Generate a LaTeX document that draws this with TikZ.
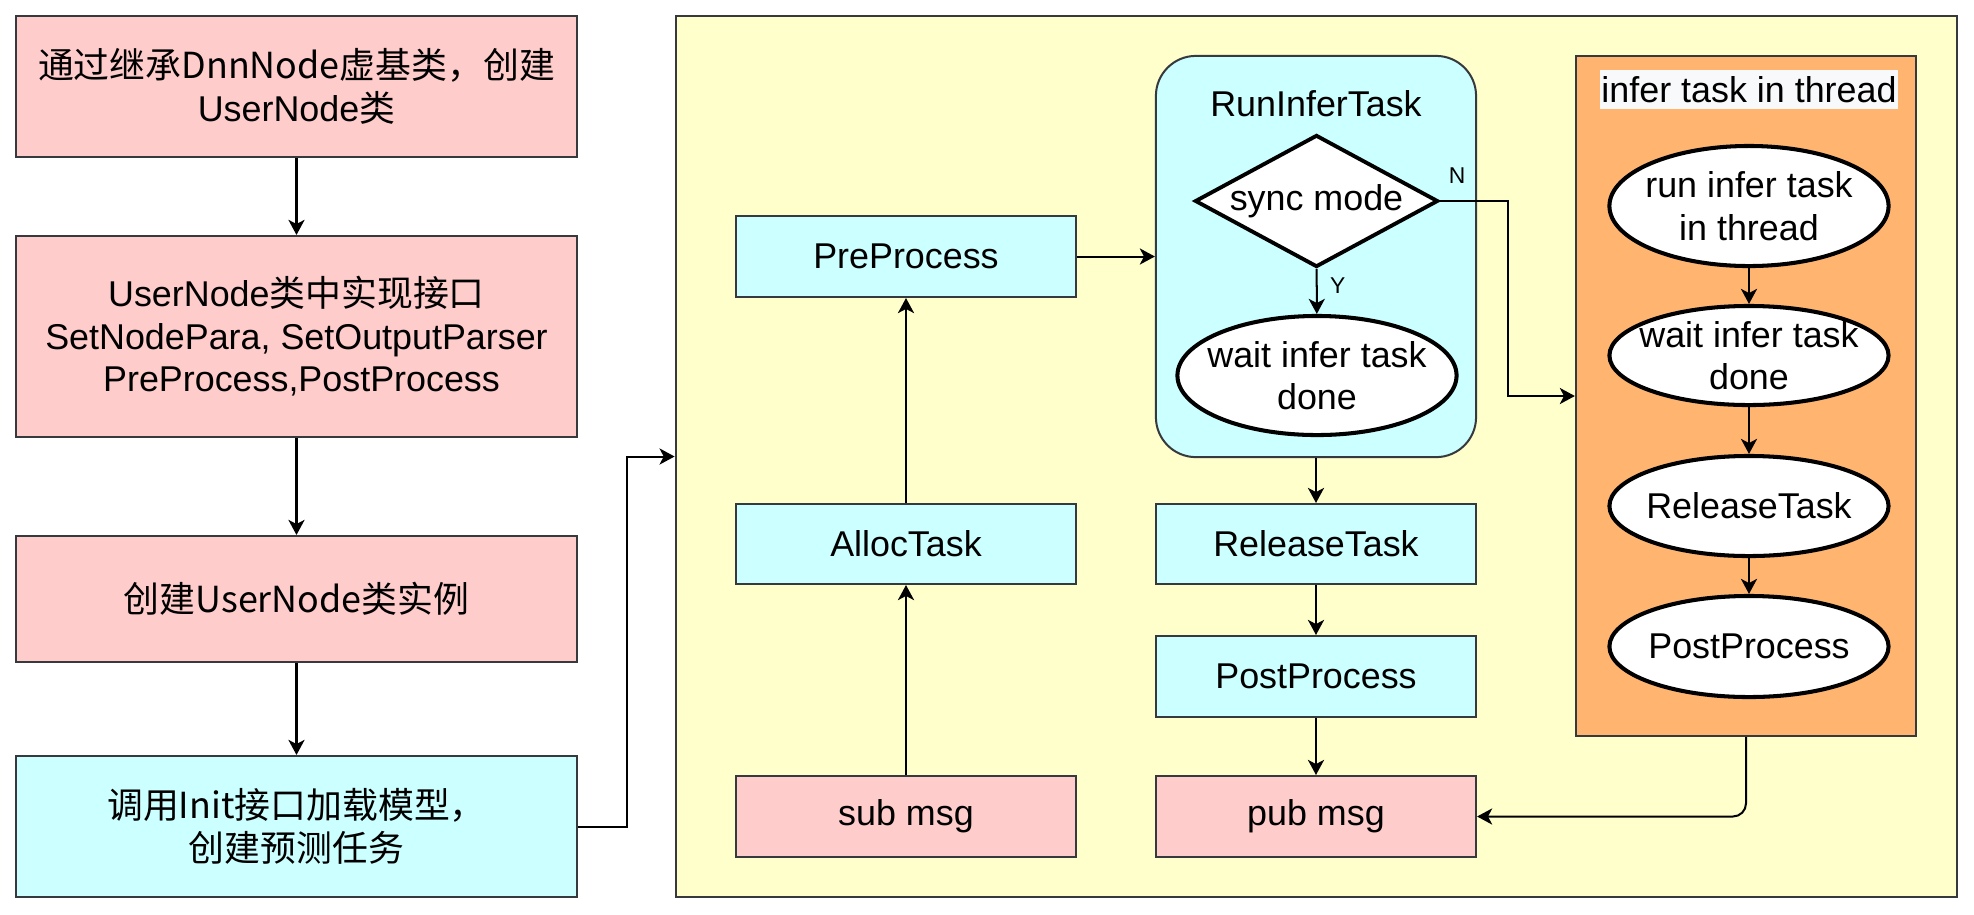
\documentclass[tikz,border=0pt]{standalone}
\usepackage{fontspec}
\setmainfont{Liberation Sans}
\newfontfamily\cjk{Noto Sans CJK SC}
\usepackage{tikz}
\usetikzlibrary{arrows.meta,shapes.geometric}

\definecolor{pinkfill}{HTML}{FFCCCC}
\definecolor{cyanfill}{HTML}{CCFFFF}
\definecolor{yellowfill}{HTML}{FFFFCC}
\definecolor{orangefill}{HTML}{FFB570}
\definecolor{edgegray}{HTML}{36393D}
\definecolor{titlefill}{HTML}{F8F9FA}

\begin{document}
\begin{tikzpicture}[
            x = 0.01cm, y = -0.01cm, % one unit is one pixel, y runs down
            > = {Stealth[length=4.3pt,width=4.6pt,inset=1.2pt]}, % arrow head style
            line width = 0.57pt, % line style
            every node/.style = {font=\fontsize{10.2}{12.1}\selectfont, align=center},
            plainbox/.style = {draw=edgegray, rectangle, inner sep=0pt},
            pinkbox/.style = {plainbox, fill=pinkfill},
            cyanbox/.style = {plainbox, fill=cyanfill},
            oval/.style = {draw=black, fill=white, ellipse, line width=1.15pt,
                           minimum width=2.79cm, inner xsep=-0.15cm, inner ysep=0pt},
            yn/.style = {font=\fontsize{6.5}{7}\selectfont, inner sep=2pt}
        ]
\useasboundingbox (0,0) rectangle (1974,914);

% left column
\node[pinkbox, minimum width=5.61cm, minimum height=1.41cm] (inherit) at (296.5,86.5) {\cjk{通过继承}DnnNode\cjk{虚基类，创建}\\UserNode\cjk{类}};
\node[pinkbox, minimum width=5.61cm, minimum height=2.01cm] (iface) at (296.5,336.5) {UserNode\cjk{类中实现接口}\\SetNodePara, SetOutputParser\\~PreProcess,PostProcess};
\node[pinkbox, minimum width=5.61cm, minimum height=1.26cm] (inst) at (296.5,599) {\cjk{创建}UserNode\cjk{类实例}};
\node[cyanbox, minimum width=5.61cm, minimum height=1.41cm] (init) at (296.5,826.5) {\cjk{调用}Init\cjk{接口加载模型，}\\\cjk{创建预测任务}};

% yellow area
\node[plainbox, fill=yellowfill, minimum width=12.81cm, minimum height=8.81cm] (yard) at (1316.5,456.5) {};

\node[cyanbox, minimum width=3.4cm, minimum height=0.81cm] (pre) at (906,256.5) {PreProcess};
\node[cyanbox, minimum width=3.4cm, minimum height=0.8cm] (alloc) at (906,544) {AllocTask};
\node[pinkbox, minimum width=3.4cm, minimum height=0.81cm] (sub) at (906,816.5) {sub msg};

\node[cyanbox, rounded corners=0.4cm, minimum width=3.2cm, minimum height=4.01cm] (run) at (1316,256.5) {};
\node (runtitle) at (1316,104) {RunInferTask};
\node[diamond, draw=black, fill=white, line width=1.1pt, aspect=1.84, inner sep=0pt,
      minimum width=2.43cm, minimum height=1.32cm] (sync) at (1316.5,201) {sync mode};
\node[oval, minimum height=1.19cm] (wait) at (1317,375.5) {wait infer task\\done};

\node[cyanbox, minimum width=3.2cm, minimum height=0.8cm] (release) at (1316,544) {ReleaseTask};
\node[cyanbox, minimum width=3.2cm, minimum height=0.81cm] (post) at (1316,676.5) {PostProcess};
\node[pinkbox, minimum width=3.2cm, minimum height=0.81cm] (pub) at (1316,816.5) {pub msg};

% thread area
\node[plainbox, fill=orangefill, minimum width=3.4cm, minimum height=6.8cm] (thread) at (1746,396) {};
\node[fill=titlefill, inner sep=0pt, minimum width=2.98cm, minimum height=0.39cm] (threadtitle) at (1749,89.5) {infer task in thread};
\node[oval, minimum height=1.2cm] (thrun) at (1749,206) {run infer task\\in thread};
\node[oval, minimum height=0.99cm] (thwait) at (1749,355.5) {wait infer task\\done};
\node[oval, minimum height=1.0cm] (threl) at (1749,506) {ReleaseTask};
\node[oval, minimum height=1.01cm] (thpost) at (1749,646.5) {PostProcess};

\path [->] (inherit) edge (iface);
\path [->] (iface) edge (inst);
\path [->] (inst) edge (init);
\draw [->] (init.east) -- ++(49,0) |- (yard.west);

\path [->] (sub) edge (alloc);
\path [->] (alloc) edge (pre);
\path [->] (pre) edge (run);
\path [->] (sync) edge node[yn, right=1.5pt, pos=0.37] {Y} (wait);
\draw [->] (sync.east) -- ++(68,0) node[yn, above=2.8pt, pos=0.25] {N} |- (thread.west);
\path [->] (run) edge (release);
\path [->] (release) edge (post);
\path [->] (post) edge (pub);

\path [->] (thrun) edge (thwait);
\path [->] (thwait) edge (threl);
\path [->] (threl) edge (thpost);
\draw [->, rounded corners=0.13cm] (thread.south) |- (pub.east);
\end{tikzpicture}
\end{document}
